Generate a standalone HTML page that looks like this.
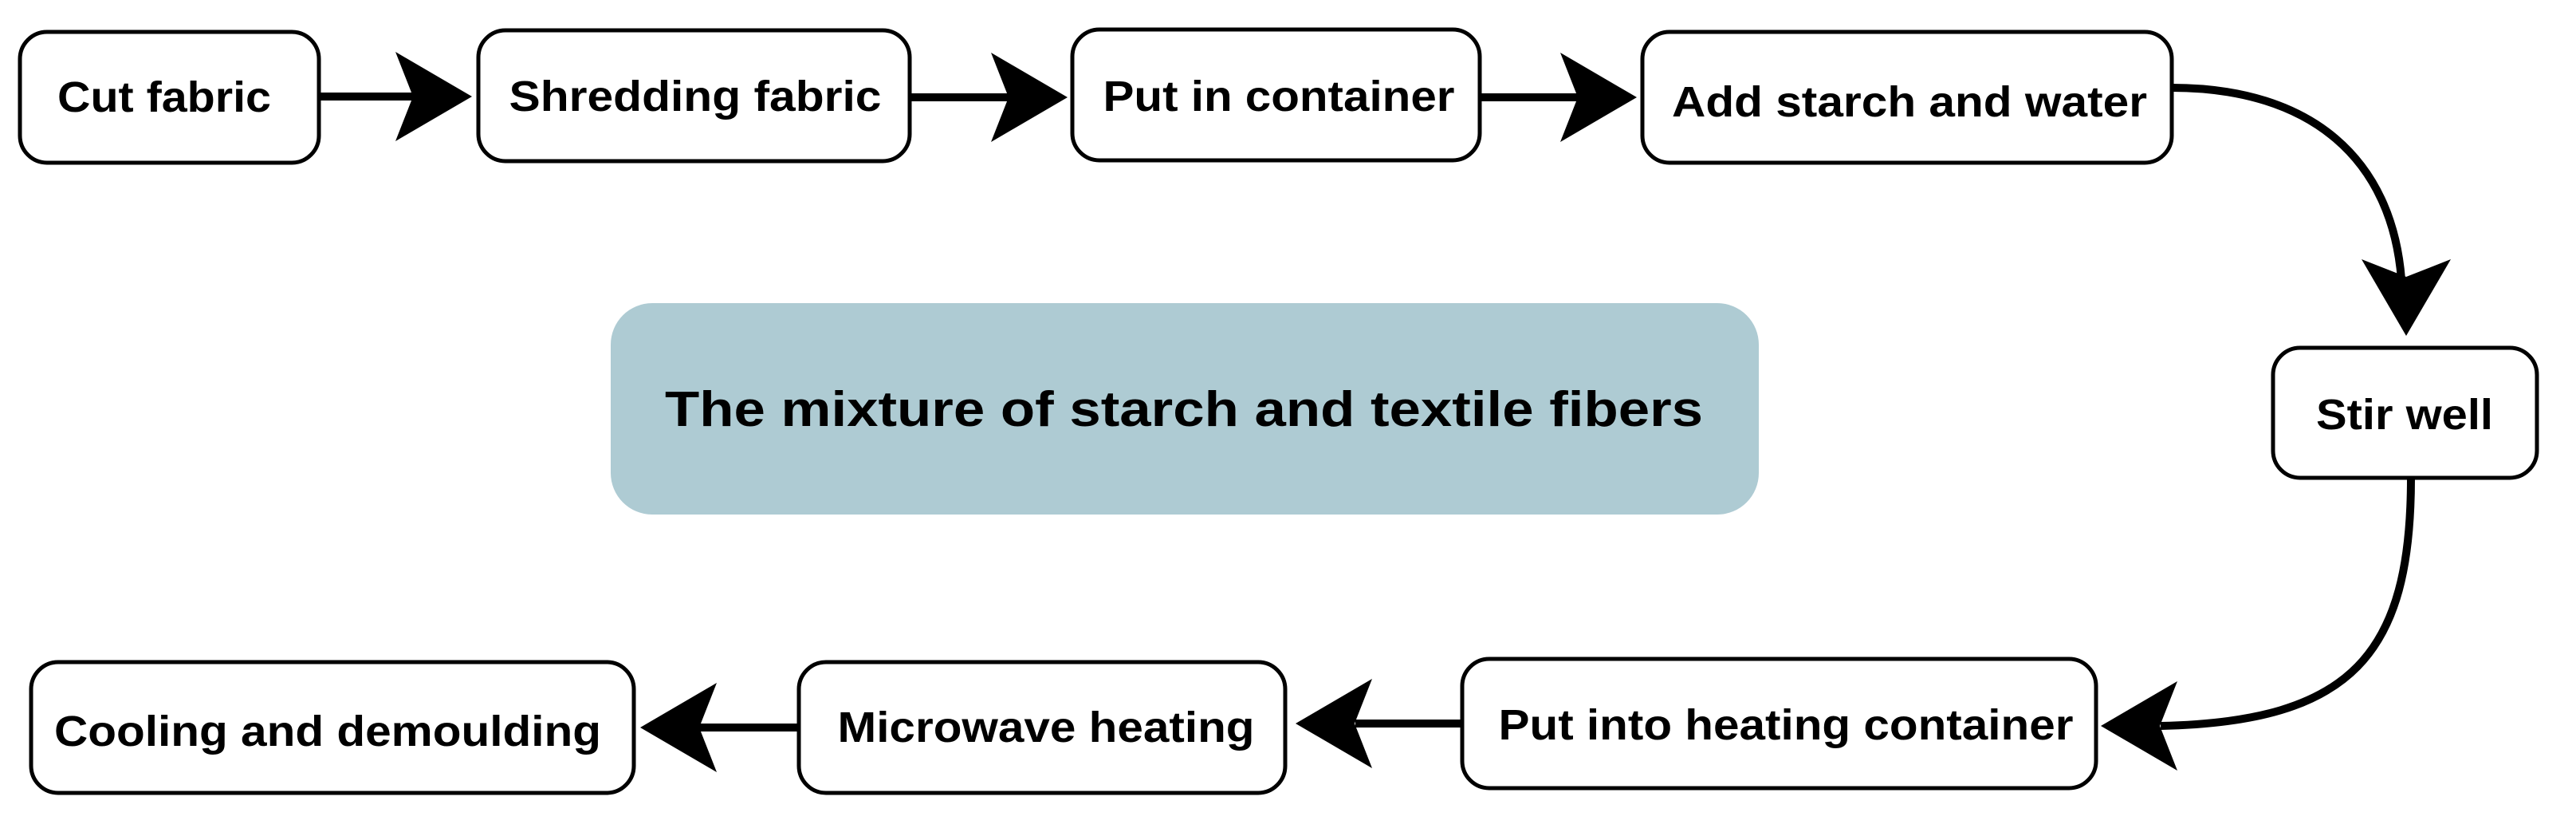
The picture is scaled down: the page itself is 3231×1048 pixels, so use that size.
<!DOCTYPE html>
<html><head><meta charset="utf-8"><style>html,body{margin:0;padding:0;background:#fff}svg{display:block}</style></head>
<body>
<svg width="3231" height="1048" viewBox="0 0 3231 1048" xmlns="http://www.w3.org/2000/svg">
<defs>
<polygon id="ah" points="0,0 -96,-56 -74,0 -96,56" fill="#000"/>
</defs>
<g fill="#fff" stroke="#000" stroke-width="5">
<rect x="25" y="40" width="375" height="164" rx="34"/>
<rect x="600" y="38" width="541" height="164" rx="34"/>
<rect x="1345" y="37" width="511" height="164" rx="34"/>
<rect x="2060" y="40" width="664" height="164" rx="34"/>
<rect x="2851" y="436" width="331" height="163" rx="34"/>
<rect x="1834" y="826" width="795" height="162" rx="34"/>
<rect x="1002" y="830" width="610" height="164" rx="34"/>
<rect x="39" y="830" width="756" height="164" rx="34"/>
</g>
<rect x="766" y="380" width="1440" height="265" rx="52" fill="#aecbd3"/>
<g stroke="#000" stroke-width="10" fill="none">
<line x1="400" y1="121" x2="520" y2="121"/>
<line x1="1141" y1="122" x2="1265" y2="122"/>
<line x1="1856" y1="122" x2="1980" y2="122"/>
<path d="M2724,110 C2900,110 3000,200 3012,350"/>
<path d="M3024,599 C3024,820 2950,905 2710,910"/>
<line x1="1834" y1="907" x2="1700" y2="907"/>
<line x1="1002" y1="912" x2="875" y2="912"/>
</g>
<use href="#ah" transform="translate(592,121)"/>
<use href="#ah" transform="translate(1339,122)"/>
<use href="#ah" transform="translate(2053,122)"/>
<use href="#ah" transform="translate(3018,421) rotate(90)"/>
<use href="#ah" transform="translate(2635,910) rotate(180)"/>
<use href="#ah" transform="translate(1625,907) rotate(180)"/>
<use href="#ah" transform="translate(803,912) rotate(180)"/>
<g font-family="Liberation Sans, Arial, sans-serif" font-weight="bold" font-size="54" fill="#000" text-anchor="middle">
<text x="206" y="140" textLength="268" lengthAdjust="spacingAndGlyphs">Cut fabric</text>
<text x="872" y="139" textLength="467" lengthAdjust="spacingAndGlyphs">Shredding fabric</text>
<text x="1604" y="139" textLength="441" lengthAdjust="spacingAndGlyphs">Put in container</text>
<text x="2395" y="146" textLength="596" lengthAdjust="spacingAndGlyphs">Add starch and water</text>
<text x="3016" y="538" textLength="222" lengthAdjust="spacingAndGlyphs">Stir well</text>
<text x="2240" y="927" textLength="721" lengthAdjust="spacingAndGlyphs">Put into heating container</text>
<text x="1312" y="930" textLength="523" lengthAdjust="spacingAndGlyphs">Microwave heating</text>
<text x="411" y="935" textLength="686" lengthAdjust="spacingAndGlyphs">Cooling and demoulding</text>
<text x="1485" y="534" font-size="62" textLength="1302" lengthAdjust="spacingAndGlyphs">The mixture of starch and textile fibers</text>
</g>
</svg>
</body></html>
